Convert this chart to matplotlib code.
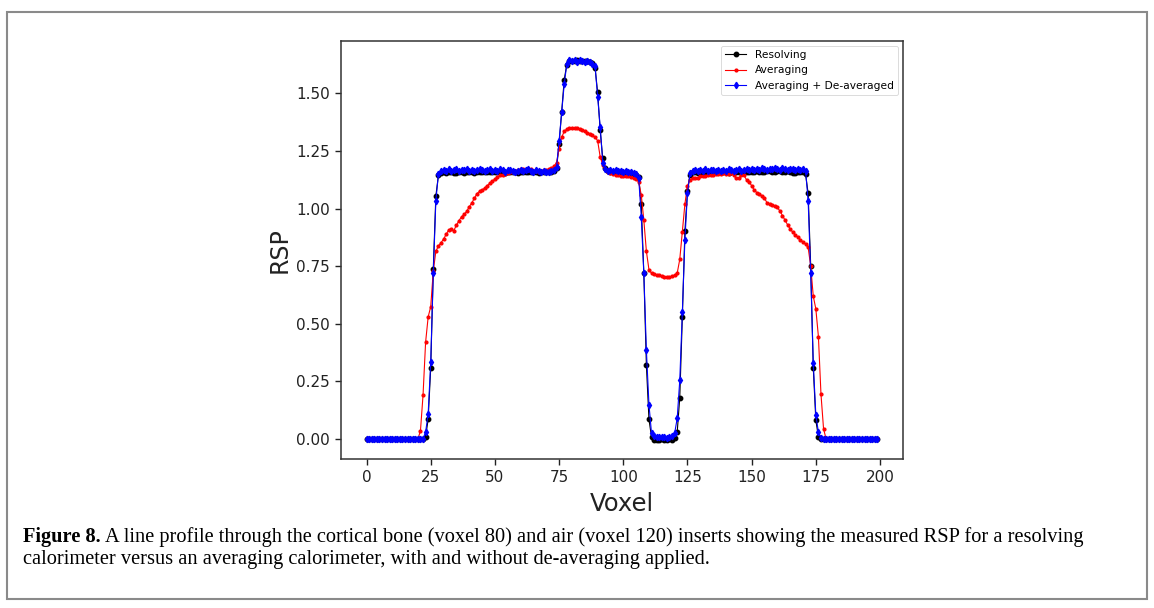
import matplotlib
matplotlib.use("Agg")
import matplotlib.pyplot as plt
from matplotlib.patches import Rectangle
import numpy as np

voxels = list(range(200))

resolving = [
    0.000, 0.000, 0.000, 0.000, 0.000, 0.000, 0.000, 0.000, 0.000, 0.000,
    0.000, 0.000, 0.000, 0.000, 0.000, 0.000, 0.000, 0.000, 0.000, 0.000,
    0.000, 0.000, 0.000, 0.010, 0.086, 0.310, 0.740, 1.055, 1.145, 1.155,
    1.158, 1.156, 1.160, 1.157, 1.154, 1.156, 1.159, 1.157, 1.155, 1.158,
    1.160, 1.157, 1.156, 1.158, 1.161, 1.159, 1.157, 1.158, 1.160, 1.158,
    1.157, 1.159, 1.161, 1.158, 1.156, 1.158, 1.160, 1.159, 1.157, 1.156,
    1.158, 1.160, 1.158, 1.157, 1.159, 1.161, 1.158, 1.156, 1.157, 1.159,
    1.158, 1.157, 1.159, 1.162, 1.175, 1.280, 1.420, 1.560, 1.625, 1.640,
    1.642, 1.641, 1.643, 1.640, 1.642, 1.641, 1.640, 1.638, 1.630, 1.612,
    1.505, 1.340, 1.218, 1.178, 1.165, 1.160, 1.158, 1.159, 1.157, 1.158,
    1.156, 1.157, 1.155, 1.154, 1.152, 1.148, 1.138, 1.020, 0.720, 0.320,
    0.086, 0.008, -0.002, -0.004, -0.003, -0.001, -0.003, -0.002, 0.000, -0.002,
    0.004, 0.030, 0.180, 0.528, 0.902, 1.075, 1.148, 1.157, 1.158, 1.156,
    1.158, 1.157, 1.159, 1.158, 1.156, 1.158, 1.160, 1.157, 1.158, 1.159,
    1.157, 1.156, 1.158, 1.160, 1.158, 1.157, 1.159, 1.158, 1.160, 1.161,
    1.159, 1.160, 1.162, 1.161, 1.159, 1.160, 1.162, 1.163, 1.161, 1.160,
    1.162, 1.163, 1.161, 1.160, 1.162, 1.159, 1.156, 1.154, 1.158, 1.160,
    1.159, 1.150, 1.066, 0.752, 0.310, 0.082, 0.010, 0.000, 0.000, 0.000,
    0.000, 0.000, 0.000, 0.000, 0.000, 0.000, 0.000, 0.000, 0.000, 0.000,
    0.000, 0.000, 0.000, 0.000, 0.000, 0.000, 0.000, 0.000, 0.000, 0.000,
]

averaging = [
    0.000, 0.000, 0.000, 0.000, 0.000, 0.000, 0.000, 0.000, 0.000, 0.000,
    0.000, 0.000, 0.000, 0.000, 0.000, 0.000, 0.000, 0.000, 0.000, 0.000,
    0.000, 0.036, 0.190, 0.420, 0.530, 0.575, 0.730, 0.815, 0.838, 0.852,
    0.868, 0.888, 0.908, 0.910, 0.905, 0.928, 0.948, 0.965, 0.975, 0.988,
    1.008, 1.025, 1.045, 1.065, 1.075, 1.082, 1.088, 1.100, 1.110, 1.120,
    1.128, 1.137, 1.145, 1.148, 1.150, 1.154, 1.158, 1.160, 1.163, 1.168,
    1.172, 1.170, 1.168, 1.172, 1.170, 1.165, 1.162, 1.160, 1.163, 1.166,
    1.168, 1.172, 1.177, 1.183, 1.200, 1.260, 1.310, 1.335, 1.345, 1.350,
    1.352, 1.350, 1.348, 1.345, 1.340, 1.335, 1.330, 1.325, 1.318, 1.310,
    1.295, 1.225, 1.190, 1.170, 1.160, 1.155, 1.150, 1.148, 1.145, 1.142,
    1.142, 1.140, 1.140, 1.138, 1.135, 1.130, 1.115, 1.060, 0.950, 0.815,
    0.735, 0.720, 0.715, 0.712, 0.712, 0.708, 0.704, 0.702, 0.704, 0.707,
    0.712, 0.720, 0.780, 0.900, 1.020, 1.100, 1.125, 1.132, 1.135, 1.135,
    1.140, 1.140, 1.142, 1.145, 1.145, 1.148, 1.150, 1.150, 1.152, 1.155,
    1.152, 1.150, 1.155, 1.145, 1.132, 1.132, 1.148, 1.145, 1.125, 1.115,
    1.100, 1.080, 1.070, 1.065, 1.055, 1.045, 1.025, 1.018, 1.015, 1.010,
    1.005, 0.990, 0.970, 0.950, 0.930, 0.912, 0.898, 0.887, 0.875, 0.865,
    0.855, 0.845, 0.832, 0.750, 0.620, 0.565, 0.445, 0.195, 0.045, 0.000,
    0.000, 0.000, 0.000, 0.000, 0.000, 0.000, 0.000, 0.000, 0.000, 0.000,
    0.000, 0.000, 0.000, 0.000, 0.000, 0.000, 0.000, 0.000, 0.000, 0.000,
]

deaveraged = [
    0.000, 0.000, 0.000, 0.000, 0.000, 0.000, 0.000, 0.000, 0.000, 0.000,
    0.000, 0.000, 0.000, 0.000, 0.000, 0.000, 0.000, 0.000, 0.000, 0.000,
    0.000, 0.000, 0.002, 0.030, 0.110, 0.335, 0.720, 1.035, 1.150, 1.162,
    1.168, 1.165, 1.170, 1.163, 1.167, 1.171, 1.164, 1.168, 1.166, 1.170,
    1.165, 1.169, 1.163, 1.167, 1.171, 1.166, 1.162, 1.168, 1.172, 1.165,
    1.168, 1.164, 1.170, 1.166, 1.161, 1.167, 1.169, 1.163, 1.158, 1.165,
    1.168, 1.162, 1.166, 1.170, 1.164, 1.160, 1.166, 1.162, 1.158, 1.163,
    1.160, 1.158, 1.163, 1.168, 1.180, 1.295, 1.420, 1.540, 1.628, 1.643,
    1.640, 1.645, 1.638, 1.644, 1.640, 1.637, 1.642, 1.636, 1.628, 1.620,
    1.485, 1.355, 1.200, 1.172, 1.165, 1.168, 1.163, 1.166, 1.162, 1.165,
    1.161, 1.164, 1.160, 1.158, 1.155, 1.150, 1.132, 0.965, 0.720, 0.385,
    0.150, 0.025, 0.012, 0.008, 0.010, 0.007, 0.009, 0.006, 0.008, 0.012,
    0.025, 0.090, 0.255, 0.550, 0.865, 1.068, 1.155, 1.165, 1.168, 1.163,
    1.167, 1.165, 1.170, 1.164, 1.168, 1.166, 1.163, 1.169, 1.165, 1.168,
    1.164, 1.170, 1.166, 1.163, 1.168, 1.171, 1.165, 1.167, 1.172, 1.168,
    1.170, 1.166, 1.173, 1.169, 1.175, 1.171, 1.168, 1.174, 1.170, 1.176,
    1.172, 1.169, 1.175, 1.171, 1.168, 1.173, 1.170, 1.166, 1.171, 1.168,
    1.170, 1.165, 1.035, 0.720, 0.330, 0.105, 0.030, 0.005, 0.000, 0.000,
    0.000, 0.000, 0.000, 0.000, 0.000, 0.000, 0.000, 0.000, 0.000, 0.000,
    0.000, 0.000, 0.000, 0.000, 0.000, 0.000, 0.000, 0.000, 0.000, 0.000,
]

series_labels = ["Resolving", "Averaging", "Averaging + De-averaged"]
x_ticks = [0, 25, 50, 75, 100, 125, 150, 175, 200]
y_ticks = [0.00, 0.25, 0.50, 0.75, 1.00, 1.25, 1.50]
caption_bold = "Figure 8."
caption_line1 = (" A line profile through the cortical bone (voxel 80) and air (voxel 120) "
                 "inserts showing the measured RSP for a resolving")
caption_line2 = ("calorimeter versus an averaging calorimeter, with and without "
                 "de-averaging applied.")

W, H = 1154, 608
fig = plt.figure(figsize=(W / 100, H / 100), dpi=100)
fig.patch.set_facecolor("white")

# outer frame
fig.patches.append(Rectangle((7 / W, 1 - 599 / H), (1147 - 7) / W, (599 - 12) / H,
                             transform=fig.transFigure, fill=False,
                             edgecolor="#8a8a8a", linewidth=1.5))

ax = fig.add_axes([341 / W, 1 - 459 / H, (903 - 341) / W, (459 - 41) / H])

ax.plot(voxels, resolving, color="black", marker="o", markersize=3.2,
        linewidth=0.8, label=series_labels[0])
ax.plot(voxels, averaging, color="red", marker=".", markersize=4,
        linewidth=0.8, label=series_labels[1])
ax.plot(voxels, deaveraged, color="blue", marker="d", markersize=3.3,
        linewidth=0.8, label=series_labels[2])

ax.set_xticks(x_ticks)
ax.set_yticks(y_ticks)
ax.set_yticklabels([f"{v:.2f}" for v in y_ticks])
ax.tick_params(labelsize=11, colors="#222222", length=4.5, width=1.0)
for s in ax.spines.values():
    s.set_color("#333333")
    s.set_linewidth(1.1)
ax.set_xlabel("Voxel", fontsize=17.5, color="#222222", labelpad=5)
ax.set_ylabel("RSP", fontsize=17, color="#222222", labelpad=3)

leg = ax.legend(loc="upper right", fontsize=7.7, frameon=True, borderaxespad=0.45,
                handlelength=2.0, markerscale=1.0)
leg.get_frame().set_linewidth(0.6)

# caption
cap_font = "Liberation Serif"
fig.canvas.draw()
renderer = fig.canvas.get_renderer()
target_w = 1082 - 23
size = 10.5
tb = fig.text(23 / W, 1 - 542 / H, caption_bold, fontsize=size, fontweight="bold",
              family=cap_font, ha="left", va="baseline")
tr = fig.text(0, 1 - 542 / H, caption_line1, fontsize=size, family=cap_font,
              ha="left", va="baseline")
fig.canvas.draw()
wb = tb.get_window_extent(renderer).width
wr = tr.get_window_extent(renderer).width
scale = target_w / (wb + wr)
size2 = size * scale
tb.set_fontsize(size2)
tr.set_fontsize(size2)
fig.canvas.draw()
wb = tb.get_window_extent(renderer).width
tr.set_x((23 + wb) / W)
fig.text(23 / W, 1 - 564 / H, caption_line2, fontsize=size2, family=cap_font,
         ha="left", va="baseline")

fig.savefig("out.png", dpi=100, facecolor="white")
